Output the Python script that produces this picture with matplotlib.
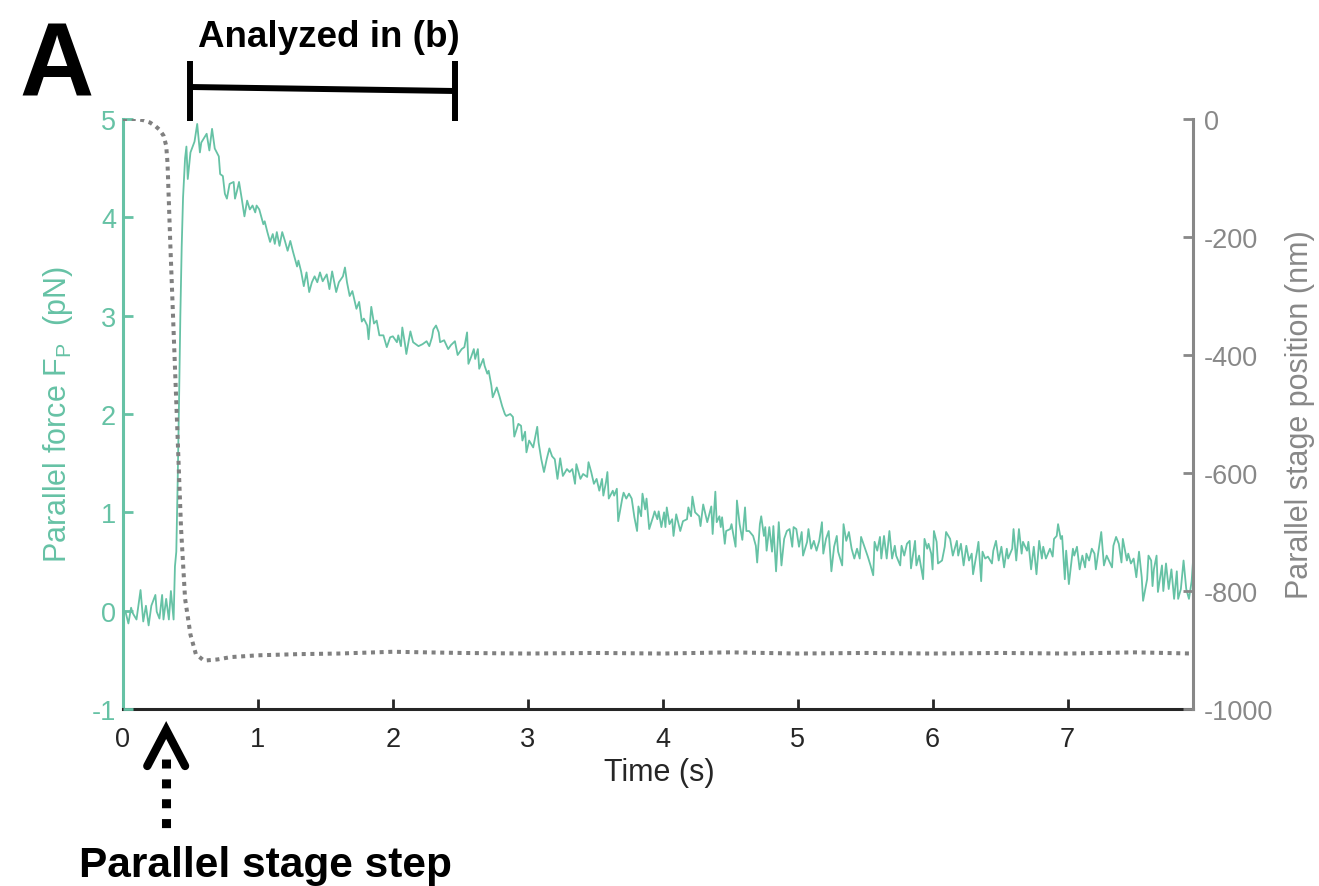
import matplotlib
matplotlib.use('Agg')
import matplotlib.pyplot as plt
from matplotlib.lines import Line2D
import matplotlib.transforms as mtransforms

plt.rcParams['font.family'] = ['Liberation Sans', 'DejaVu Sans']
plt.rcParams['mathtext.fontset'] = 'custom'
plt.rcParams['mathtext.rm'] = 'Liberation Sans'
plt.rcParams['mathtext.it'] = 'Liberation Sans:italic'
plt.rcParams['axes.unicode_minus'] = False

# ---------------- data ----------------
force_time = [
    0.00, 0.02, 0.04, 0.06, 0.07, 0.10, 0.13, 0.15, 0.17, 0.19, 0.21, 0.24, 0.25, 0.27, 0.29, 0.30,
    0.32, 0.34, 0.355, 0.375, 0.385, 0.395, 0.405, 0.415, 0.425, 0.435, 0.445, 0.46, 0.47, 0.48,
    0.50, 0.53, 0.55, 0.57, 0.58, 0.62, 0.64, 0.66, 0.68, 0.71, 0.72, 0.74, 0.755, 0.77, 0.79, 0.82,
    0.83, 0.845, 0.86, 0.88, 0.90, 0.92, 0.94, 0.96, 0.98, 0.99, 1.01, 1.04, 1.05, 1.07, 1.09, 1.11,
    1.125, 1.14, 1.16, 1.18, 1.20, 1.22, 1.24, 1.26, 1.29, 1.30, 1.32, 1.34, 1.36, 1.38, 1.40, 1.42,
    1.44, 1.46, 1.48, 1.51, 1.53, 1.55, 1.58, 1.60, 1.63, 1.645, 1.66, 1.68, 1.70, 1.73, 1.75, 1.77,
    1.785, 1.81, 1.82, 1.84, 1.86, 1.88, 1.90, 1.93, 1.955, 1.98,
    2.00, 2.03, 2.04, 2.06, 2.07, 2.09, 2.10, 2.13, 2.15, 2.19, 2.22, 2.25, 2.27, 2.29, 2.30, 2.32,
    2.34, 2.35, 2.38, 2.41, 2.43, 2.46, 2.48, 2.51, 2.53, 2.55, 2.56, 2.58, 2.60, 2.61, 2.63, 2.64,
    2.67, 2.68, 2.70, 2.71, 2.73, 2.74, 2.77, 2.79, 2.81, 2.83, 2.84, 2.87, 2.89, 2.90, 2.93, 2.95,
    2.96, 2.98, 2.99, 3.01, 3.04, 3.05, 3.07, 3.08, 3.10, 3.12, 3.14, 3.16, 3.18, 3.20, 3.22, 3.24,
    3.26, 3.29, 3.31, 3.33, 3.35, 3.36, 3.39, 3.41, 3.44, 3.45, 3.47, 3.49, 3.51, 3.53, 3.55, 3.56,
    3.58, 3.59, 3.60, 3.63, 3.64, 3.66, 3.67, 3.70, 3.71, 3.73, 3.75, 3.77, 3.79, 3.81, 3.82, 3.84,
    3.85, 3.87, 3.88, 3.90,
    3.93, 3.94, 3.96, 3.97, 3.99, 4.01, 4.02, 4.03, 4.05, 4.07, 4.08, 4.10, 4.13, 4.15, 4.18, 4.19,
    4.21, 4.22, 4.24, 4.27, 4.28, 4.30, 4.32, 4.33, 4.36, 4.37, 4.39, 4.40, 4.42, 4.43, 4.44, 4.46,
    4.47, 4.50, 4.51, 4.52, 4.54, 4.55, 4.57, 4.59, 4.61, 4.62, 4.64, 4.67, 4.69, 4.70, 4.72, 4.73,
    4.75, 4.76, 4.77, 4.79, 4.81, 4.82, 4.84, 4.86, 4.88, 4.90, 4.92, 4.94, 4.96, 4.97, 4.99, 5.01,
    5.03, 5.04, 5.07, 5.08, 5.10, 5.12, 5.14, 5.16, 5.18, 5.19, 5.21, 5.23, 5.25, 5.27, 5.29, 5.30,
    5.33, 5.34, 5.36, 5.38, 5.40, 5.42, 5.44, 5.46, 5.47, 5.50, 5.52, 5.54, 5.56, 5.57, 5.59, 5.61,
    5.62, 5.64, 5.66, 5.68, 5.70, 5.72, 5.73, 5.76, 5.77, 5.79, 5.81, 5.83, 5.84, 5.87, 5.88,
    5.90, 5.93, 5.94, 5.96, 5.97, 5.99, 6.00, 6.01, 6.03, 6.04, 6.07, 6.09, 6.10, 6.13, 6.15, 6.16,
    6.18, 6.19, 6.21, 6.23, 6.25, 6.27, 6.29, 6.30, 6.33, 6.34, 6.36, 6.37, 6.39, 6.41, 6.44, 6.45,
    6.47, 6.49, 6.51, 6.53, 6.55, 6.56, 6.59, 6.60, 6.62, 6.64, 6.66, 6.67, 6.70, 6.71, 6.73, 6.75,
    6.77, 6.79, 6.81, 6.82, 6.84, 6.87, 6.89, 6.90, 6.92, 6.93, 6.95, 6.96, 6.98, 6.99, 7.01, 7.04,
    7.05, 7.07, 7.09, 7.11, 7.13, 7.14, 7.16, 7.18, 7.20, 7.21, 7.23, 7.25, 7.27, 7.29, 7.30, 7.33,
    7.34, 7.36, 7.38, 7.40, 7.41, 7.44, 7.45, 7.47, 7.49, 7.51, 7.53, 7.55, 7.56, 7.59, 7.60, 7.62,
    7.63, 7.64, 7.66, 7.67, 7.70, 7.71, 7.73, 7.75, 7.77, 7.79, 7.81, 7.82, 7.84, 7.86, 7.88, 7.90,
    7.92, 7.93,
]
force_pN = [
    0.02, -0.02, -0.13, 0.03, -0.02, -0.09, 0.21, -0.11, 0.05, -0.15, 0.05, 0.16, -0.01, -0.08, 0.16, -0.09,
    0.12, -0.09, 0.20, -0.09, 0.45, 0.60, 1.30, 2.10, 3.00, 3.70, 4.20, 4.60, 4.72, 4.39,
    4.66, 4.77, 4.95, 4.66, 4.76, 4.85, 4.68, 4.90, 4.70, 4.62, 4.44, 4.42, 4.24, 4.19, 4.34, 4.36,
    4.19, 4.27, 4.36, 4.19, 4.01, 4.17, 4.08, 4.12, 4.05, 4.12, 4.08, 3.93, 3.96, 3.85, 3.75, 3.83,
    3.73, 3.85, 3.71, 3.85, 3.76, 3.66, 3.76, 3.65, 3.50, 3.56, 3.45, 3.30, 3.44, 3.24, 3.34, 3.40,
    3.34, 3.44, 3.35, 3.42, 3.27, 3.45, 3.24, 3.34, 3.40, 3.49, 3.34, 3.20, 3.25, 3.07, 3.14, 2.94,
    2.97, 2.90, 2.76, 3.09, 2.92, 2.95, 2.80, 2.80, 2.68, 2.78,
    2.79, 2.73, 2.80, 2.69, 2.88, 2.71, 2.61, 2.84, 2.73, 2.69, 2.71, 2.74, 2.69, 2.78, 2.86, 2.90,
    2.83, 2.73, 2.75, 2.66, 2.70, 2.74, 2.60, 2.66, 2.68, 2.83, 2.51, 2.58, 2.66, 2.56, 2.66, 2.46,
    2.56, 2.49, 2.41, 2.44, 2.29, 2.17, 2.27, 2.18, 2.08, 2.00, 1.98, 2.00, 1.97, 1.77, 1.90, 1.88,
    1.73, 1.82, 1.61, 1.73, 1.66, 1.73, 1.87, 1.71, 1.54, 1.41, 1.54, 1.65, 1.57, 1.54, 1.34, 1.55,
    1.37, 1.44, 1.41, 1.44, 1.29, 1.49, 1.34, 1.39, 1.36, 1.51, 1.41, 1.29, 1.34, 1.22, 1.34, 1.17,
    1.31, 1.41, 1.14, 1.22, 1.17, 1.24, 0.91, 1.14, 1.20, 1.14, 1.19, 1.14, 0.95, 0.81, 1.06, 0.96,
    1.19, 1.03, 1.14, 0.83,
    0.96, 1.01, 0.93, 1.01, 0.85, 1.00, 0.85, 1.05, 0.88, 0.93, 0.76, 0.98, 0.81, 0.91, 0.93, 1.05,
    0.96, 1.16, 1.00, 0.96, 0.86, 1.08, 0.96, 0.90, 1.06, 0.78, 1.21, 0.90, 0.96, 0.85, 0.95, 0.68,
    0.81, 0.83, 0.88, 0.80, 0.65, 1.12, 0.88, 0.72, 1.05, 0.81, 0.81, 0.76, 0.66, 0.49, 0.88, 0.96,
    0.76, 0.85, 0.61, 0.85, 0.60, 0.86, 0.40, 0.90, 0.46, 0.73, 0.81, 0.83, 0.65, 0.85, 0.83, 0.65,
    0.80, 0.56, 0.70, 0.83, 0.63, 0.71, 0.61, 0.71, 0.90, 0.58, 0.73, 0.81, 0.40, 0.65, 0.76, 0.60,
    0.46, 0.88, 0.71, 0.80, 0.63, 0.53, 0.63, 0.53, 0.75, 0.63, 0.55, 0.46, 0.36, 0.70, 0.61, 0.75,
    0.53, 0.76, 0.53, 0.81, 0.53, 0.66, 0.56, 0.46, 0.66, 0.56, 0.68, 0.71, 0.43, 0.71, 0.46,
    0.56, 0.32, 0.73, 0.63, 0.68, 0.58, 0.42, 0.81, 0.70, 0.48, 0.51, 0.65, 0.80, 0.73, 0.56, 0.61,
    0.71, 0.56, 0.68, 0.46, 0.66, 0.51, 0.58, 0.37, 0.61, 0.70, 0.30, 0.60, 0.53, 0.55, 0.48, 0.61,
    0.71, 0.51, 0.65, 0.44, 0.63, 0.53, 0.63, 0.83, 0.51, 0.83, 0.58, 0.70, 0.61, 0.70, 0.42, 0.65,
    0.37, 0.71, 0.53, 0.65, 0.53, 0.63, 0.55, 0.73, 0.76, 0.88, 0.73, 0.76, 0.32, 0.61, 0.27, 0.63,
    0.56, 0.65, 0.42, 0.56, 0.44, 0.58, 0.51, 0.63, 0.58, 0.42, 0.61, 0.80, 0.46, 0.56, 0.53, 0.44,
    0.66, 0.75, 0.68, 0.49, 0.73, 0.51, 0.58, 0.48, 0.53, 0.34, 0.60, 0.34, 0.10, 0.32, 0.56, 0.51,
    0.25, 0.42, 0.56, 0.19, 0.46, 0.20, 0.48, 0.22, 0.42, 0.12, 0.40, 0.12, 0.22, 0.51, 0.22, 0.12,
    0.30, 0.50,
]

stage_time = [0.00, 0.10, 0.15, 0.20, 0.24, 0.27, 0.30, 0.32, 0.33, 0.35, 0.38, 0.41, 0.43, 0.46,
              0.50, 0.54, 0.60, 0.70, 0.80, 1.00, 1.30, 1.60, 2.00, 2.50, 3.00, 3.50, 4.00, 4.50,
              5.00, 5.50, 6.00, 6.50, 7.00, 7.50, 7.93]
stage_nm = [0, 0, -2, -6, -12, -18, -28, -45, -75, -208, -390, -571, -693, -813,
            -874, -907, -918, -916, -912, -909, -907, -906, -903, -905, -906, -905, -906, -904,
            -906, -905, -906, -905, -906, -904, -906]

x_ticks = [0, 1, 2, 3, 4, 5, 6, 7]
force_ticks = [-1, 0, 1, 2, 3, 4, 5]
stage_ticks = [-1000, -800, -600, -400, -200, 0]
bracket_time = [0.50, 2.46]   # "Analyzed in (b)" span
step_time = 0.32              # parallel stage step marker

GREEN = '#66c2a5'
GREY = '#888888'
DARK = '#262626'

W, H = 1319, 887
fig = plt.figure(figsize=(W / 100, H / 100), dpi=100)
ax = fig.add_axes([123 / W, 1 - 710 / H, 1070 / W, 590 / H])
ax2 = ax.twinx()

ax.plot(force_time, force_pN, color=GREEN, lw=1.3, zorder=3)
ax2.plot(stage_time, stage_nm, color='#808080', lw=2.9, linestyle=(0, (1.0, 1.15)))

ax.set_xlim(0, 7.93)
ax.set_ylim(-1, 5)
ax2.set_ylim(-1000, 0)
ax.set_xticks(x_ticks)
ax.set_yticks(force_ticks)
ax2.set_yticks(stage_ticks)

for s in ['top', 'right']:
    ax.spines[s].set_visible(False)
for s in ['top', 'left', 'bottom']:
    ax2.spines[s].set_visible(False)
ax.spines['left'].set_color(GREEN)
ax.spines['left'].set_linewidth(2.2)
ax.spines['bottom'].set_color(DARK)
ax.spines['bottom'].set_linewidth(2.2)
ax2.spines['right'].set_color(GREY)
ax2.spines['right'].set_linewidth(2.2)
ax.yaxis.set_zorder(2.6)

ax.tick_params(axis='y', direction='in', length=7, width=2, color=GREEN,
               labelcolor=GREEN, labelsize=19.5, pad=5)
ax.tick_params(axis='x', direction='in', length=7, width=2, color=DARK,
               labelcolor=DARK, labelsize=19.5, pad=12)
ax2.tick_params(axis='y', direction='in', length=7, width=2, color=GREY,
                labelcolor=GREY, labelsize=19.5, pad=8)

ax.set_ylabel(r'Parallel force F$_\mathregular{P}$  (pN)', color=GREEN, fontsize=22)
ax.yaxis.set_label_coords(-0.045, 0.5)
ax2.set_ylabel('Parallel stage position (nm)', color=GREY, fontsize=22)
ax2.yaxis.set_label_coords(1.086, 0.5)
ax.set_xlabel('Time (s)', color=DARK, fontsize=22)
ax.xaxis.set_label_coords(0.501, -0.107)
ax.xaxis.label.set_va('center')

# panel letter and annotations
fig.text(57 / W, 1 - 95 / H, 'A', fontsize=74, fontweight='bold', ha='center', va='baseline')
fig.text(198 / W, 1 - 47 / H, 'Analyzed in (b)', fontsize=26.5, fontweight='bold',
         ha='left', va='baseline')
fig.text(79 / W, 1 - 877 / H, 'Parallel stage step', fontsize=30.5, fontweight='bold',
         ha='left', va='baseline')

btr = mtransforms.blended_transform_factory(ax.transData, fig.transFigure)
x0, x1 = bracket_time
fig.add_artist(Line2D([x0, x1], [1 - 88 / H, 1 - 92 / H], transform=btr, color='black',
                      lw=4.3, solid_capstyle='butt'))
for xb in bracket_time:
    fig.add_artist(Line2D([xb, xb], [1 - 62 / H, 1 - 122 / H], transform=btr, color='black',
                          lw=4.3, solid_capstyle='butt'))

# arrow marking the stage step
dx = 0.14
fig.add_artist(Line2D([step_time - dx, step_time, step_time + dx],
                      [1 - 767 / H, 1 - 731 / H, 1 - 767 / H], transform=btr, color='black',
                      lw=6.0, solid_capstyle='round', solid_joinstyle='miter'))
fig.add_artist(Line2D([step_time, step_time], [1 - 760 / H, 1 - 830 / H], transform=btr,
                      color='black', lw=6.5, linestyle=(0, (1.0, 1.2)), dash_capstyle='butt'))

fig.savefig('out.png', dpi=100)
